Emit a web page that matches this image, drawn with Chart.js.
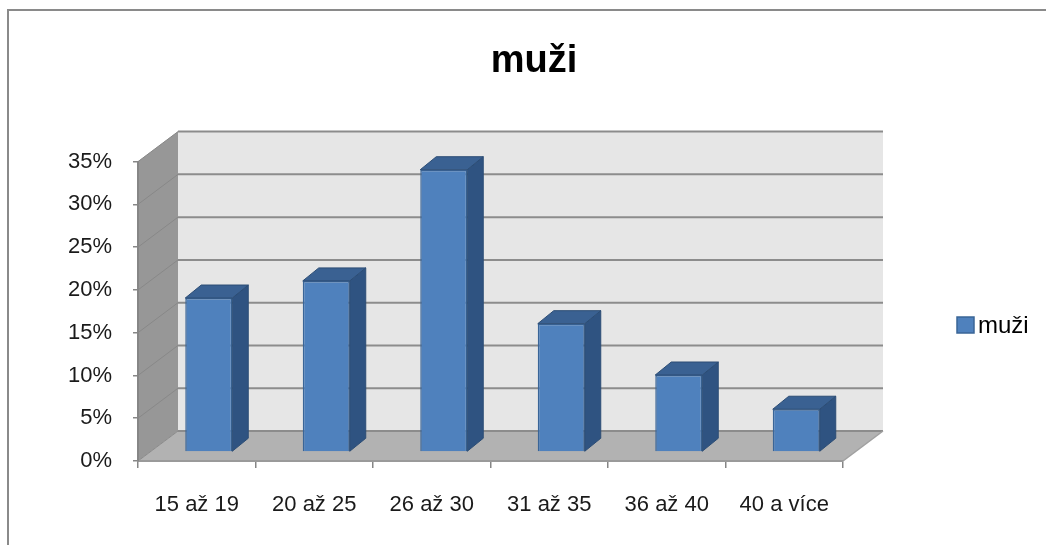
<!DOCTYPE html>
<html>
<head>
<meta charset="utf-8">
<script src="https://cdn.jsdelivr.net/npm/chart.js@4"></script>
<style>
  body { margin: 0; background: #fff; overflow: hidden; }
  #wrap { position: relative; width: 1046px; height: 545px; }
  #frame { position: absolute; left: 7px; top: 9px; width: 1100px; height: 600px;
           border-left: 2.5px solid #8a8a8a; border-top: 2.5px solid #8a8a8a; }
  canvas { position: absolute; left: 0; top: 0; }
</style>
</head>
<body>
<div id="wrap">
  <div id="frame"></div>
  <canvas id="myChart" width="1046" height="545"></canvas>
</div>
<script>
const categories = ['15 až 19', '20 až 25', '26 až 30', '31 až 35', '36 až 40', '40 a více'];
const values = [18, 20, 33, 15, 9, 5];
const seriesName = 'muži';
const yTicks = [0, 5, 10, 15, 20, 25, 30, 35];

const FONT = '"Liberation Sans", Arial, sans-serif';

// 3d look: walls + bar sides
const fake3d = {
    id: 'fake3d',
    beforeDraw(chart) {
        const c = chart.ctx, x = chart.scales.x, y = chart.scales.y;
        const DX = 40, DY = -30;
        const L = x.left, R = x.right, y0 = y.getPixelForValue(0), yt = y.getPixelForValue(35);
        c.save();
        // back wall
        c.fillStyle = '#e6e6e6';
        c.fillRect(L + DX, yt + DY, R - L, y0 - yt);
        // left wall
        c.fillStyle = '#979797';
        c.beginPath();
        c.moveTo(L, y0); c.lineTo(L, yt); c.lineTo(L + DX, yt + DY); c.lineTo(L + DX, y0 + DY);
        c.closePath(); c.fill();
        // floor
        c.fillStyle = '#b2b2b2';
        c.beginPath();
        c.moveTo(L, y0); c.lineTo(R, y0); c.lineTo(R + DX, y0 + DY); c.lineTo(L + DX, y0 + DY);
        c.closePath(); c.fill();
        // grid lines
        yTicks.forEach(v => {
            const py = y.getPixelForValue(v);
            c.strokeStyle = '#8c8c8c';
            c.lineWidth = 2;
            c.beginPath();
            c.moveTo(L + DX, py + DY); c.lineTo(R + DX, py + DY);
            c.stroke();
            c.strokeStyle = '#888888';
            c.lineWidth = 1;
            c.beginPath();
            c.moveTo(L, py); c.lineTo(L + DX, py + DY);
            c.stroke();
        });
        // floor right edge
        c.strokeStyle = '#a0a0a0';
        c.lineWidth = 1.5;
        c.beginPath();
        c.moveTo(R, y0); c.lineTo(R + DX, y0 + DY);
        c.stroke();
        c.restore();
    },
    beforeDatasetsDraw(chart) {
        chart.ctx.save();
        chart.ctx.translate(12, -9);
    },
    afterDatasetsDraw(chart) {
        const c = chart.ctx;
        const bdx = 16, bdy = -13;
        chart.getDatasetMeta(0).data.forEach(bar => {
            const l = bar.x - bar.width / 2, r = bar.x + bar.width / 2, t = bar.y, b = bar.base;
            c.lineWidth = 1;
            c.strokeStyle = '#2c4d75';
            c.fillStyle = '#2f5381';
            c.beginPath();
            c.moveTo(r, t); c.lineTo(r + bdx, t + bdy); c.lineTo(r + bdx, b + bdy); c.lineTo(r, b);
            c.closePath(); c.fill(); c.stroke();
            c.fillStyle = '#3a6192';
            c.beginPath();
            c.moveTo(l, t); c.lineTo(l + bdx, t + bdy); c.lineTo(r + bdx, t + bdy); c.lineTo(r, t);
            c.closePath(); c.fill(); c.stroke();
        });
        c.restore();
    },
    afterDraw(chart) {
        // legend on the right
        const c = chart.ctx;
        const ds = chart.data.datasets[0];
        c.save();
        c.fillStyle = ds.backgroundColor;
        c.strokeStyle = ds.borderColor;
        c.lineWidth = 1.5;
        c.fillRect(957, 317, 17, 16);
        c.strokeRect(957, 317, 17, 16);
        c.fillStyle = '#000';
        c.font = '24px ' + FONT;
        c.textBaseline = 'alphabetic';
        c.fillText(ds.label, 978, 333);
        c.restore();
    }
};

const ctx = document.getElementById('myChart').getContext('2d');
const myChart = new Chart(ctx, {
    type: 'bar',
    data: {
        labels: categories,
        datasets: [{
            label: seriesName,
            data: values,
            backgroundColor: '#4f81bd',
            borderColor: '#3a6597',
            borderWidth: 1.5,
            barPercentage: 0.4,
            categoryPercentage: 1
        }]
    },
    options: {
        responsive: false,
        animation: false,
        layout: { padding: { left: 22, right: 0, top: 0, bottom: 0 } },
        scales: {
            x: {
                afterFit: s => { s.height = 84; },
                grid: { drawOnChartArea: false, tickLength: 7, color: '#868686', lineWidth: 1.5, offset: true },
                border: { color: '#9a9a9a', width: 2 },
                ticks: { font: { family: FONT, size: 22 }, color: '#1a1a1a', padding: 24, maxRotation: 0 }
            },
            y: {
                min: 0,
                max: 35,
                afterFit: s => { s.width = 116; },
                grid: { drawOnChartArea: false, tickLength: 5, color: '#868686', lineWidth: 1.5 },
                border: { color: '#868686', width: 2 },
                ticks: {
                    stepSize: 5,
                    padding: 21,
                    font: { family: FONT, size: 22 },
                    color: '#1a1a1a',
                    callback: v => v + '%'
                }
            },
            // empty space on the right for the 3d depth and the legend
            yRight: {
                position: 'right',
                afterFit: s => { s.width = 203; },
                grid: { display: false },
                border: { display: false },
                ticks: { display: false }
            }
        },
        plugins: {
            legend: { display: false },
            tooltip: { enabled: false },
            title: {
                display: true,
                text: seriesName,
                color: '#000',
                font: { family: FONT, size: 38, weight: 'bold' },
                padding: { top: 39, bottom: 77 }
            }
        }
    },
    plugins: [fake3d]
});
</script>
</body>
</html>
